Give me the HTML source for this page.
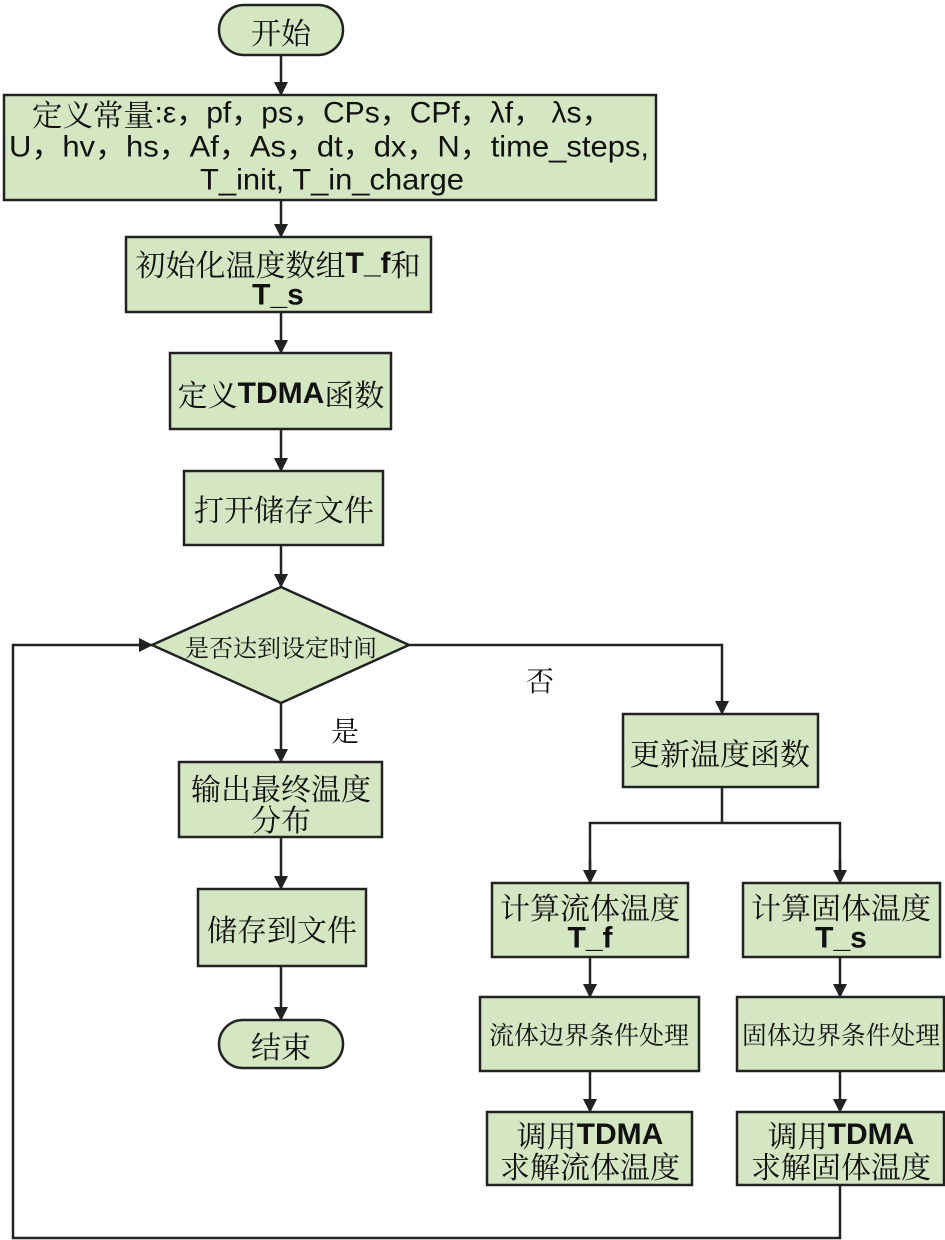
<!DOCTYPE html>
<html><head><meta charset="utf-8">
<style>
html,body{margin:0;padding:0;background:#fff;}
svg{display:block;}
text{font-family:"Noto Serif CJK SC","Noto Sans CJK SC",serif;fill:#111;text-anchor:middle;dominant-baseline:central;}
.e{font-family:"Liberation Sans",sans-serif;font-weight:bold;}
.r{font-family:"Liberation Sans",sans-serif;}
.b{fill:#d5e6c3;stroke:#222;stroke-width:2.5;}
.l{stroke:#222;stroke-width:2.5;fill:none;}
</style></head><body>
<svg width="945" height="1240" viewBox="0 0 945 1240" xmlns="http://www.w3.org/2000/svg">
<defs>
<marker id="a2" markerWidth="14" markerHeight="14" refX="13" refY="7" orient="auto" markerUnits="userSpaceOnUse" viewBox="0 0 14 14">
<path d="M0,0 L14,7 L0,14 z" fill="#222"/></marker>
</defs>

<rect class="b" x="219" y="5" width="124" height="50" rx="25"/>
<text x="281" y="31" font-size="30">开始</text>
<line class="l" x1="281" y1="55" x2="281" y2="95" marker-end="url(#a2)"/>

<rect class="b" x="4" y="95" width="652" height="105"/>
<text x="93" y="113" font-size="30" textLength="122" lengthAdjust="spacingAndGlyphs">定义常量</text>
<text x="383" y="113" font-size="30" class="r" textLength="457" lengthAdjust="spacingAndGlyphs">:ε，pf，ps，CPs，CPf，λf，  λs，</text>
<text x="329" y="147" font-size="30" class="r" textLength="640" lengthAdjust="spacingAndGlyphs">U，hv，hs，Af，As，dt，dx，N，time_steps,</text>
<text x="332" y="180" font-size="30" class="r" textLength="264" lengthAdjust="spacingAndGlyphs">T_init, T_in_charge</text>
<line class="l" x1="281" y1="200" x2="281" y2="237" marker-end="url(#a2)"/>

<rect class="b" x="126" y="237" width="305" height="75"/>
<text x="278" y="263" font-size="30">初始化温度数组<tspan class="e">T_f</tspan>和</text>
<text x="278" y="295" font-size="30" class="e">T_s</text>
<line class="l" x1="281" y1="312" x2="281" y2="353" marker-end="url(#a2)"/>

<rect class="b" x="170" y="353" width="221" height="76"/>
<text x="281" y="393" font-size="30">定义<tspan class="e">TDMA</tspan>函数</text>
<line class="l" x1="281" y1="429" x2="281" y2="471" marker-end="url(#a2)"/>

<rect class="b" x="184" y="471" width="199" height="74"/>
<text x="284" y="508" font-size="30">打开储存文件</text>
<line class="l" x1="281" y1="545" x2="281" y2="587" marker-end="url(#a2)"/>

<polygon class="b" points="281,587 409,645 281,703 152,645"/>
<text x="281" y="646" font-size="24">是否达到设定时间</text>

<text x="345" y="730" font-size="28">是</text>
<line class="l" x1="281" y1="703" x2="281" y2="762" marker-end="url(#a2)"/>
<rect class="b" x="179" y="762" width="203" height="75"/>
<text x="281" y="787" font-size="30">输出最终温度</text>
<text x="281" y="818" font-size="30">分布</text>
<line class="l" x1="281" y1="837" x2="281" y2="889" marker-end="url(#a2)"/>
<rect class="b" x="198" y="889" width="168" height="77"/>
<text x="282" y="928" font-size="30">储存到文件</text>
<line class="l" x1="281" y1="966" x2="281" y2="1020" marker-end="url(#a2)"/>
<rect class="b" x="219" y="1020" width="124" height="48" rx="24"/>
<text x="281" y="1045" font-size="30">结束</text>

<text x="540" y="680" font-size="28">否</text>
<polyline class="l" points="409,645 722,645 722,714" marker-end="url(#a2)"/>
<rect class="b" x="623" y="714" width="195" height="73"/>
<text x="720" y="752" font-size="30">更新温度函数</text>
<polyline class="l" points="722,787 722,823"/>
<polyline class="l" points="590,883 590,823 840,823 840,883"/>
<line class="l" x1="590" y1="860" x2="590" y2="883" marker-end="url(#a2)"/>
<line class="l" x1="840" y1="860" x2="840" y2="883" marker-end="url(#a2)"/>

<rect class="b" x="492" y="883" width="196" height="74"/>
<text x="590" y="906" font-size="30">计算流体温度</text>
<text x="590" y="938" font-size="30" class="e">T_f</text>
<rect class="b" x="743" y="883" width="197" height="74"/>
<text x="841" y="906" font-size="30">计算固体温度</text>
<text x="841" y="938" font-size="30" class="e">T_s</text>

<line class="l" x1="590" y1="957" x2="590" y2="997" marker-end="url(#a2)"/>
<line class="l" x1="840" y1="957" x2="840" y2="997" marker-end="url(#a2)"/>

<rect class="b" x="480" y="997" width="219" height="74"/>
<text x="589" y="1034" font-size="25">流体边界条件处理</text>
<rect class="b" x="737" y="997" width="207" height="74"/>
<text x="841" y="1034" font-size="25" textLength="198" lengthAdjust="spacingAndGlyphs">固体边界条件处理</text>

<line class="l" x1="590" y1="1071" x2="590" y2="1112" marker-end="url(#a2)"/>
<line class="l" x1="840" y1="1071" x2="840" y2="1112" marker-end="url(#a2)"/>

<rect class="b" x="487" y="1112" width="205" height="73"/>
<text x="590" y="1134" font-size="30">调用<tspan class="e">TDMA</tspan></text>
<text x="590" y="1165" font-size="30">求解流体温度</text>
<rect class="b" x="737" y="1112" width="207" height="73"/>
<text x="841" y="1134" font-size="30">调用<tspan class="e">TDMA</tspan></text>
<text x="841" y="1165" font-size="30">求解固体温度</text>

<polyline class="l" points="840,1185 840,1238 13,1238 13,645 152,645" marker-end="url(#a2)"/>
</svg>
</body></html>
